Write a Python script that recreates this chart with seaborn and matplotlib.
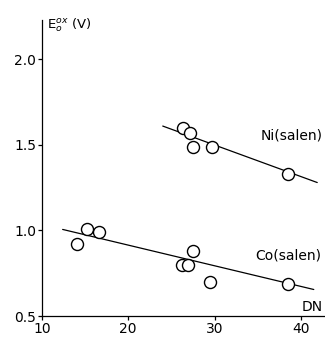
import matplotlib
matplotlib.use("Agg")
import matplotlib.pyplot as plt
import seaborn as sns
import pandas as pd

# DATA
ni_dn = [26.3, 27.2, 27.5, 29.7, 38.5]
ni_e = [1.60, 1.57, 1.49, 1.49, 1.33]
co_dn = [14.1, 15.2, 16.6, 26.2, 26.9, 27.5, 29.5, 38.5]
co_e = [0.92, 1.01, 0.99, 0.80, 0.80, 0.88, 0.70, 0.69]

# FITTED LINE END POINTS
ni_fit_dn = [24.0, 41.9]
ni_fit_e = [1.61, 1.28]
co_fit_dn = [12.4, 41.5]
co_fit_e = [1.006, 0.655]

x_ticks = [10, 20, 30, 40]
y_ticks = [0.5, 1.0, 1.5, 2.0]

ni = pd.DataFrame({"DN": ni_dn, "E": ni_e})
co = pd.DataFrame({"DN": co_dn, "E": co_e})
ni_fit = pd.DataFrame({"DN": ni_fit_dn, "E": ni_fit_e})
co_fit = pd.DataFrame({"DN": co_fit_dn, "E": co_fit_e})

sns.set_style("white")
plt.rcParams["font.family"] = ["DejaVu Sans"]
plt.rcParams["text.color"] = "black"

fig = plt.figure(figsize=(3.25, 3.38), dpi=100)
ax = fig.add_axes([0.129, 0.065, 0.871, 0.876])

sns.lineplot(data=ni_fit, x="DN", y="E", color="black", linewidth=0.9, ax=ax)
sns.lineplot(data=co_fit, x="DN", y="E", color="black", linewidth=0.9, ax=ax)
sns.scatterplot(data=ni, x="DN", y="E", s=75, facecolor="white", edgecolor="black",
                linewidth=1.0, zorder=3, ax=ax)
sns.scatterplot(data=co, x="DN", y="E", s=75, facecolor="white", edgecolor="black",
                linewidth=1.0, zorder=3, ax=ax)

ax.set_xlim(10, 42.8)
ax.set_ylim(0.5, 2.23)
ax.set_xticks(x_ticks)
ax.set_yticks(y_ticks)
ax.set_yticklabels([f"{v:.1f}" for v in y_ticks])
ax.tick_params(direction="out", length=3, width=0.9, labelsize=10,
               bottom=True, left=True, colors="black", labelcolor="black")
ax.tick_params(axis="x", pad=1.5)
ax.tick_params(axis="y", pad=1)
sns.despine(ax=ax)
for s in ["left", "bottom"]:
    ax.spines[s].set_color("black")
    ax.spines[s].set_linewidth(0.9)
ax.set_xlabel("")
ax.set_ylabel("")

ax.text(10.6, 2.2, r"E$_o^{ox}$ (V)", fontsize=9.5, va="center", ha="left")
ax.text(42.5, 0.55, "DN", fontsize=10, va="center", ha="right")
ax.text(35.3, 1.556, "Ni(salen)", fontsize=10, va="center", ha="left")
ax.text(34.7, 0.854, "Co(salen)", fontsize=10, va="center", ha="left")

fig.savefig("out.png", dpi=100)
